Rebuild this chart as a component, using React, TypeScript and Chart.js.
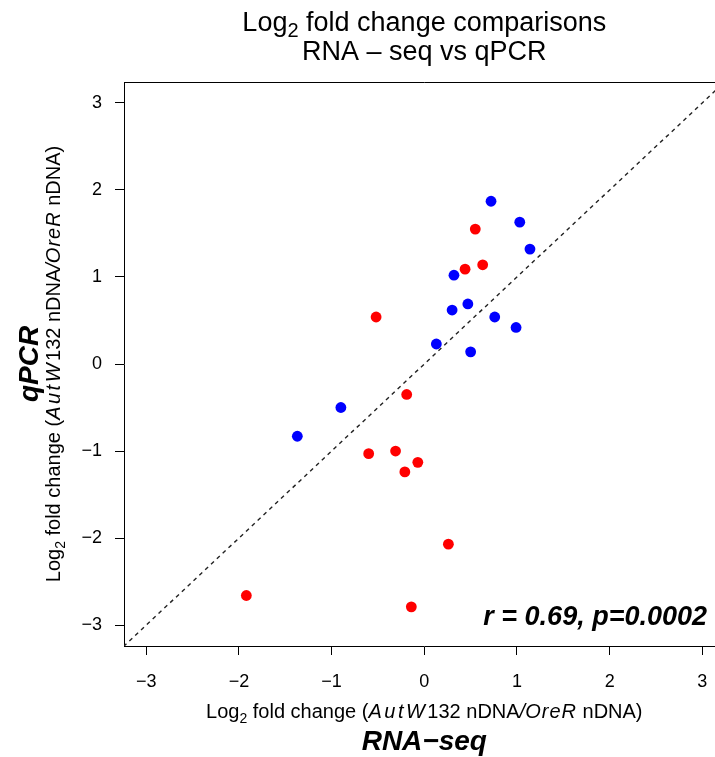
import React, { useEffect, useRef } from "react";
import { Chart, registerables } from "chart.js";

Chart.register(...registerables);

// RNA-seq (x) vs qPCR (y) log2 fold changes
const blueX = [0.72, 1.03, 1.14, 0.32, 0.47, 0.30, 0.76, 0.99, 0.13, 0.50, -0.90, -1.37];
const blueY = [1.87, 1.63, 1.32, 1.02, 0.69, 0.62, 0.54, 0.42, 0.23, 0.14, -0.50, -0.83];
const redX = [0.55, 0.44, 0.63, -0.52, -0.19, -0.60, -0.31, -0.07, -0.21, 0.26, -1.92, -0.14];
const redY = [1.55, 1.09, 1.14, 0.54, -0.35, -1.03, -1.00, -1.13, -1.24, -2.07, -2.66, -2.79];

const tickValues = [-3, -2, -1, 0, 1, 2, 3];
const axisMin = -3.24;
const axisMax = 3.24;
const identityEnds = [-4, 4];

const titleLine2 = "RNA \u2013 seq vs qPCR";
const xAxisName = "RNA\u2212seq";
const yAxisName = "qPCR";
const statText = "r = 0.69, p=0.0002";

const FAM = '"Liberation Sans", Arial, Helvetica, sans-serif';

type Seg = { t: string; font: string; dy?: number; ls?: number };

function segWidth(ctx: CanvasRenderingContext2D, s: Seg) {
  ctx.font = s.font;
  let w = ctx.measureText(s.t).width;
  if (s.ls) w += s.ls * s.t.length;
  return w;
}

function drawSegs(ctx: CanvasRenderingContext2D, segs: Seg[], cx: number, by: number) {
  const total = segs.reduce((a, s) => a + segWidth(ctx, s), 0);
  let x = cx - total / 2;
  ctx.textAlign = "left";
  ctx.textBaseline = "alphabetic";
  for (const s of segs) {
    ctx.font = s.font;
    if (s.ls) {
      for (const ch of s.t) {
        ctx.fillText(ch, x, by + (s.dy || 0));
        x += ctx.measureText(ch).width + s.ls;
      }
    } else {
      ctx.fillText(s.t, x, by + (s.dy || 0));
      x += ctx.measureText(s.t).width;
    }
  }
}

function foldLabel(size: number): Seg[] {
  const n = `${size}px ${FAM}`;
  const it = `italic ${size}px ${FAM}`;
  const sub = `${Math.round(size * 0.72)}px ${FAM}`;
  return [
    { t: "Log", font: n },
    { t: "2", font: sub, dy: size * 0.25 },
    { t: " fold change (", font: n },
    { t: "AutW", font: it, ls: 2.5 },
    { t: "132 nDNA", font: n },
    { t: "/", font: it },
    { t: "OreR", font: it, ls: 1 },
    { t: " nDNA)", font: n },
  ];
}

const textPlugin = {
  id: "textPlugin",
  afterDraw(chart: any) {
    const ctx: CanvasRenderingContext2D = chart.ctx;
    const ca = chart.chartArea;
    const cx = (ca.left + ca.right) / 2;
    const cy = (ca.top + ca.bottom) / 2;
    ctx.save();
    // top border of box
    ctx.strokeStyle = "#000";
    ctx.lineWidth = 1;
    ctx.beginPath();
    ctx.moveTo(ca.left, Math.round(ca.top) + 0.5);
    ctx.lineTo(ca.right, Math.round(ca.top) + 0.5);
    ctx.stroke();

    ctx.fillStyle = "#000";
    // title
    const tn = `27px ${FAM}`;
    drawSegs(ctx, [
      { t: "Log", font: tn },
      { t: "2", font: `20px ${FAM}`, dy: 6 },
      { t: " fold change comparisons", font: tn },
    ], cx, 31);
    drawSegs(ctx, [{ t: titleLine2, font: tn }], cx, 60);

    // x axis labels
    drawSegs(ctx, foldLabel(20), cx, 718);
    drawSegs(ctx, [{ t: xAxisName, font: `bold italic 28px ${FAM}` }], cx, 750);

    // y axis labels
    ctx.save();
    ctx.translate(60, cy);
    ctx.rotate(-Math.PI / 2);
    drawSegs(ctx, foldLabel(20), 0, 0);
    ctx.restore();
    ctx.save();
    ctx.translate(38, cy);
    ctx.rotate(-Math.PI / 2);
    drawSegs(ctx, [{ t: yAxisName, font: `bold italic 28px ${FAM}` }], 0, 0);
    ctx.restore();

    // stat annotation
    ctx.font = `bold italic 27px ${FAM}`;
    ctx.textAlign = "right";
    ctx.textBaseline = "alphabetic";
    ctx.fillText(statText, 707, 625);
    ctx.restore();
  },
};

const fmt = (v: number) => (v < 0 ? "\u2212" + Math.abs(v) : String(v));

export default function App() {
  const ref = useRef<HTMLCanvasElement | null>(null);
  useEffect(() => {
    if (!ref.current) return;
    const chart = new Chart(ref.current, {
      type: "scatter",
      data: {
        datasets: [
          {
            type: "line",
            data: identityEnds.map((v) => ({ x: v, y: v })),
            borderColor: "#222",
            borderWidth: 1.4,
            borderDash: [4, 4],
            pointRadius: 0,
            fill: false,
          } as any,
          {
            data: blueX.map((x, i) => ({ x, y: blueY[i] })),
            backgroundColor: "#0000ff",
            borderColor: "#0000ff",
            pointRadius: 5.4,
            borderWidth: 0,
          },
          {
            data: redX.map((x, i) => ({ x, y: redY[i] })),
            backgroundColor: "#ff0000",
            borderColor: "#ff0000",
            pointRadius: 5.4,
            borderWidth: 0,
          },
        ],
      },
      options: {
        animation: false,
        responsive: false,
        devicePixelRatio: 1,
        layout: { padding: { top: 82, right: 5, left: 0, bottom: 0 } },
        plugins: { legend: { display: false }, tooltip: { enabled: false }, title: { display: false } },
        scales: {
          x: {
            type: "linear",
            min: axisMin,
            max: axisMax,
            afterBuildTicks: (s: any) => {
              s.ticks = tickValues.map((v) => ({ value: v }));
            },
            afterFit: (s: any) => {
              s.height = 111;
              s.paddingLeft = 0;
              s.paddingRight = 0;
            },
            ticks: {
              callback: (v: any) => fmt(Number(v)),
              color: "#000",
              font: { family: FAM, size: 18 },
              padding: 16,
              maxRotation: 0,
              autoSkip: false,
            },
            grid: { drawOnChartArea: false, drawTicks: true, tickLength: 9, color: "#000", tickColor: "#000" },
            border: { display: true, color: "#000", width: 1 },
          },
          y: {
            type: "linear",
            min: axisMin,
            max: axisMax,
            afterBuildTicks: (s: any) => {
              s.ticks = tickValues.map((v) => ({ value: v }));
            },
            afterFit: (s: any) => {
              s.width = 124;
              s.paddingTop = 0;
              s.paddingBottom = 0;
            },
            ticks: {
              callback: (v: any) => fmt(Number(v)),
              color: "#000",
              font: { family: FAM, size: 18 },
              padding: 13,
              autoSkip: false,
            },
            grid: { drawOnChartArea: false, drawTicks: true, tickLength: 9, color: "#000", tickColor: "#000" },
            border: { display: true, color: "#000", width: 1 },
          },
        },
      },
      plugins: [textPlugin],
    });
    return () => chart.destroy();
  }, []);
  return (
    <div style={{ position: "fixed", left: 0, top: 0, width: 715, height: 757, overflow: "hidden", background: "#fff" }}>
      <canvas ref={ref} width={730} height={757} style={{ display: "block", width: 730, height: 757 }} />
    </div>
  );
}
